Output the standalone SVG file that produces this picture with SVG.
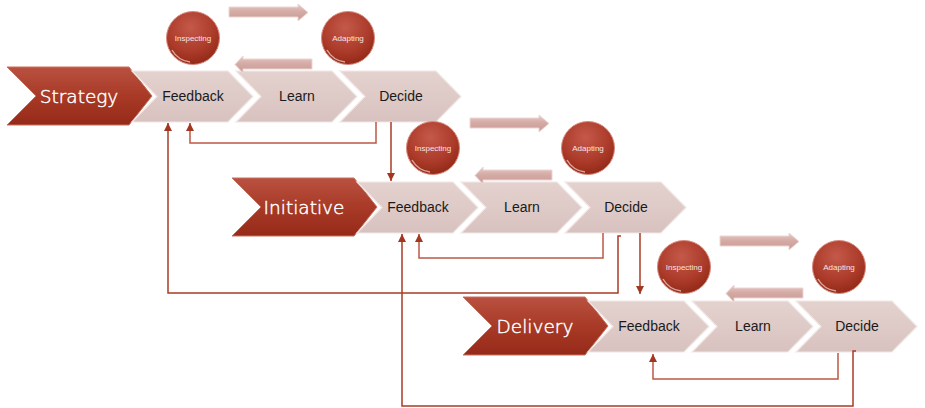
<svg xmlns="http://www.w3.org/2000/svg" width="925" height="408" viewBox="0 0 925 408">
<defs>
  <linearGradient id="gDark" x1="0" y1="0" x2="0" y2="1">
    <stop offset="0" stop-color="#BA5140"/>
    <stop offset="0.5" stop-color="#A83A27"/>
    <stop offset="1" stop-color="#962A18"/>
  </linearGradient>
  <linearGradient id="gLight" x1="0" y1="0" x2="0" y2="1">
    <stop offset="0" stop-color="#E4D2CF"/>
    <stop offset="1" stop-color="#D8C2BF"/>
  </linearGradient>
  <linearGradient id="gArrow" x1="0" y1="0" x2="0" y2="1">
    <stop offset="0" stop-color="#E6C9C5"/>
    <stop offset="0.45" stop-color="#D5ABA6"/>
    <stop offset="1" stop-color="#C99893"/>
  </linearGradient>
  <radialGradient id="gBall" cx="0.45" cy="0.3" r="0.75">
    <stop offset="0" stop-color="#C4594A"/>
    <stop offset="0.6" stop-color="#AC3B2A"/>
    <stop offset="1" stop-color="#8E2614"/>
  </radialGradient>
  <marker id="ah" markerWidth="8" markerHeight="8" refX="8" refY="4" orient="auto" markerUnits="userSpaceOnUse">
    <path d="M0,0 L8,4 L0,8 Z" fill="#A3361F"/>
  </marker>
  <polygon id="lchev" points="0,0 96,0 121,25.5 96,51 0,51 25,25.5"/>
  <polygon id="dchev" points="0,0 122,0 145,29 122,58 0,58 29,29"/>
  <circle id="ball" r="26.5"/>
  <path id="rarr" d="M0,3 L69,3 L69,0 L79,8.5 L69,17 L69,13 L0,13 Z"/>
  <path id="larr" d="M77,3 L8,3 L8,0 L0,8.5 L8,17 L8,13 L77,13 Z"/>
</defs>
<style>
  .dark { fill: url(#gDark); stroke: #C8705F; stroke-width: 1; }
  .light { fill: url(#gLight); stroke: #F2E8E6; stroke-width: 1.2; }
  .ball { fill: url(#gBall); stroke: #D98A7E; stroke-width: 1; }
  .shine { fill: none; stroke: #F3D6D0; stroke-width: 1.5; opacity: 0.7; }
  .barr { fill: url(#gArrow); stroke: #EBD6D3; stroke-width: 1; }
  .title { font-family: "DejaVu Sans", "Liberation Sans", sans-serif; font-weight: 200; font-size: 18.5px; fill: #FFFFFF; stroke: #FFFFFF; stroke-width: 0.45; text-anchor: middle; }
  .step { font-family: "Liberation Sans", Arial, sans-serif; font-size: 14px; fill: #1A1A1A; text-anchor: middle; }
  .tiny { font-family: "Liberation Sans", Arial, sans-serif; font-size: 8px; fill: #F6E4E1; text-anchor: middle; }
  .conn { fill: none; stroke: #A83C26; stroke-width: 1.5; }
  .loop { fill: none; stroke: #BC5844; stroke-width: 1.5; }
</style>

<!-- Row 1: Strategy -->
<g id="strategy">
  <use href="#dchev" x="7" y="67" class="dark"/>
  <text x="79" y="103" class="title">Strategy</text>
</g>
<g id="strategy-feedback">
  <use href="#lchev" x="132" y="71" class="light"/>
  <text x="193" y="101" class="step">Feedback</text>
</g>
<g id="strategy-learn">
  <use href="#lchev" x="236" y="71" class="light"/>
  <text x="297" y="101" class="step">Learn</text>
</g>
<g id="strategy-decide">
  <use href="#lchev" x="340" y="71" class="light"/>
  <text x="401" y="101" class="step">Decide</text>
</g>
<g id="strategy-inspecting">
  <use href="#ball" x="193" y="38" class="ball"/>
  <path d="M172,50 A24,24 0 0 0 190,62" class="shine"/>
  <text x="193" y="41" class="tiny">Inspecting</text>
</g>
<g id="strategy-adapting">
  <use href="#ball" x="348" y="38" class="ball"/>
  <path d="M327,50 A24,24 0 0 0 345,62" class="shine"/>
  <text x="348" y="41" class="tiny">Adapting</text>
</g>
<g id="strategy-flow">
  <use href="#rarr" x="229" y="4" class="barr"/>
  <use href="#larr" x="235" y="56" class="barr"/>
</g>

<!-- Row 2: Initiative -->
<g id="initiative">
  <use href="#dchev" x="232" y="178" class="dark"/>
  <text x="304" y="214" class="title">Initiative</text>
</g>
<g id="initiative-feedback">
  <use href="#lchev" x="357" y="182" class="light"/>
  <text x="418" y="212" class="step">Feedback</text>
</g>
<g id="initiative-learn">
  <use href="#lchev" x="461" y="182" class="light"/>
  <text x="522" y="212" class="step">Learn</text>
</g>
<g id="initiative-decide">
  <use href="#lchev" x="565" y="182" class="light"/>
  <text x="626" y="212" class="step">Decide</text>
</g>
<g id="initiative-inspecting">
  <use href="#ball" x="433" y="148" class="ball"/>
  <path d="M412,160 A24,24 0 0 0 430,172" class="shine"/>
  <text x="433" y="151" class="tiny">Inspecting</text>
</g>
<g id="initiative-adapting">
  <use href="#ball" x="588" y="148" class="ball"/>
  <path d="M567,160 A24,24 0 0 0 585,172" class="shine"/>
  <text x="588" y="151" class="tiny">Adapting</text>
</g>
<g id="initiative-flow">
  <use href="#rarr" x="470" y="115" class="barr"/>
  <use href="#larr" x="475" y="167" class="barr"/>
</g>

<!-- Row 3: Delivery -->
<g id="delivery">
  <use href="#dchev" x="463" y="297" class="dark"/>
  <text x="535" y="333" class="title">Delivery</text>
</g>
<g id="delivery-feedback">
  <use href="#lchev" x="588" y="301" class="light"/>
  <text x="649" y="331" class="step">Feedback</text>
</g>
<g id="delivery-learn">
  <use href="#lchev" x="692" y="301" class="light"/>
  <text x="753" y="331" class="step">Learn</text>
</g>
<g id="delivery-decide">
  <use href="#lchev" x="796" y="301" class="light"/>
  <text x="857" y="331" class="step">Decide</text>
</g>
<g id="delivery-inspecting">
  <use href="#ball" x="684" y="267" class="ball"/>
  <path d="M663,279 A24,24 0 0 0 681,291" class="shine"/>
  <text x="684" y="270" class="tiny">Inspecting</text>
</g>
<g id="delivery-adapting">
  <use href="#ball" x="839" y="267" class="ball"/>
  <path d="M818,279 A24,24 0 0 0 836,291" class="shine"/>
  <text x="839" y="270" class="tiny">Adapting</text>
</g>
<g id="delivery-flow">
  <use href="#rarr" x="720" y="233" class="barr"/>
  <use href="#larr" x="726" y="285" class="barr"/>
</g>

<!-- Connectors -->
<g id="connectors">
  <polyline class="loop" points="376,122 376,143 190,143 190,123" marker-end="url(#ah)"/>
  <polyline class="conn" points="391,122 391,181" marker-end="url(#ah)"/>
  <polyline class="loop" points="603,233 603,258 419,258 419,234" marker-end="url(#ah)"/>
  <polyline class="conn" points="621,236 618,236 618,293 168,293 168,123" marker-end="url(#ah)"/>
  <polyline class="conn" points="640,233 640,294" marker-end="url(#ah)"/>
  <polyline class="loop" points="838,353 838,379 653,379 653,354" marker-end="url(#ah)"/>
  <polyline class="conn" points="856,351 853,351 853,406 402,406 402,234" marker-end="url(#ah)"/>
</g>
</svg>
